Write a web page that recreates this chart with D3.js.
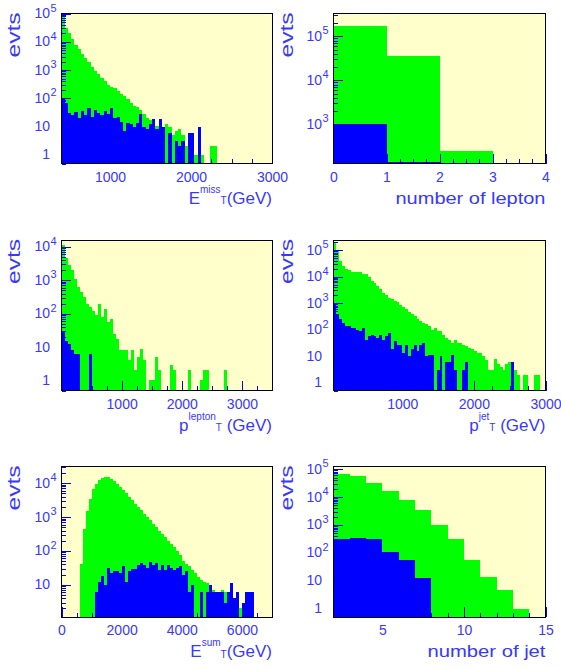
<!DOCTYPE html>
<html><head><meta charset="utf-8">
<script src="https://cdn.jsdelivr.net/npm/d3@7"></script>
<style>body{margin:0;background:#fff}svg{display:block}</style>
</head><body>
<script>
// ---------------- DATA ----------------
// Panel 1: missing ET (bins of 40 GeV from 400)
const metBinStart = 400, metBinWidth = 40;
const metGreen = [95000,30000,20000,12500,8000,5600,3800,2600,1900,1300,950,700,520,400,300,250,225,180,140,120,
  95,70,55,48,40,28,21,17,14,11,11,7,12,10,5,7,8,5,2,3,3,1,2,1,0,0,2,2,0,0,
  0,0,0,0,0,0,0,0,0,0,0,0,0,0,0];
const metBlue = [100,70,30,25,33,20,35,25,45,22,40,30,25,35,28,45,20,22,15,7,
  14,12,10,14,27,10,8,12,18,8,18,10,0,6,0,3,2,3,0,6,6,0,10,0,0,0,0,0,0,0,
  0,0,0,0,0,0,0,0,0,0,0,0,0,0,0];
const metXTicks = [1000,2000,3000];

// Panel 2: number of leptons
const nlepBinStart = 0, nlepBinWidth = 1;
const nlepGreen = [170000,36000,240,0];
const nlepBlue = [1000,140,0,0];
const nlepXTicks = [0,1,2,3,4];

// Panel 3: lepton pT (bins of 50 GeV from 0)
const lepBinStart = 0, lepBinWidth = 50;
const lepGreen = [11000,4500,2800,2000,1100,630,450,316,200,160,117,93,200,80,140,56,70,25,18,8,
  8,8,4,8,2,5,9,4,0,1,1,5,2,0,0,0,3,2,0,0,0,0,2,0,0,0,1,2,2,0,
  0,0,0,0,2,0,0,0,0,0,0,0,0,0,0,0,0,0,0,0];
const lepBlue = [28,15,12,8,6,6,0,0,0,6,0,0,0,0,0,0,0,0,0,0,
  0,0,0,0,0,0,0,0,0,0,0,0,0,0,0,0,0,0,0,0,0,0,0,0,0,0,0,0,0,0,
  0,0,0,0,0,0,0,0,0,0,0,0,0,0,0,0,0,0,0,0];
const lepXTicks = [1000,2000,3000];

// Panel 4: jet pT (bins of 40 GeV from 40)
const jetBinStart = 40, jetBinWidth = 40;
const jetGreen = [200000,95000,40000,26000,19000,17000,15000,14500,14500,14500,13000,12000,9300,6900,5500,4500,3300,2500,2000,1600,
  1400,1200,1050,850,710,590,440,380,325,245,210,180,160,135,100,117,87,87,65,49,
  42,32,42,32,32,27,24,20,18,15,13,13,10,7,3,3,8,5,4,3,
  5,6,5,3,2,0,2,2,0,0,2,2,0,0];
const jetBlue = [900,370,240,180,135,135,117,117,100,87,117,42,56,65,56,49,65,42,56,76,
  18,36,27,27,13,27,10,18,27,15,27,32,10,11,11,0,3,10,0,6,
  6,11,3,0,0,3,6,0,0,0,0,0,0,0,0,0,0,0,0,0,
  0,0,6,0,0,0,0,0,0,0,0,0,0,0];
const jetXTicks = [1000,2000,3000];

// Panel 5: sum ET (bins of 100 GeV from 0)
const sumBinStart = 0, sumBinWidth = 100;
const sumGreen = [0,0,0,0,0,0,40,450,1500,3500,6500,9500,12000,14000,15500,15000,13500,11500,9500,7800,
  6300,5000,4000,3200,2500,2000,1600,1250,1000,800,620,500,400,320,250,200,160,130,100,75,
  50,40,35,28,22,17,14,12,11,9,7,6,6,7,6,4,4,3,3,2,
  2,2,3,2,0,0,0,0,0,0];
const sumBlue = [0,0,0,0,0,0,0,0,0,0,0,6,12,18,10,31,22,25,25,22,
  35,12,25,30,30,39,44,39,31,48,39,44,28,39,28,39,31,28,31,35,
  20,25,6,10,0,0,6,0,6,10,6,6,6,6,3,6,11,4,6,0,
  3,6,6,6,0,0,0,0,0,0];
const sumXTicks = [0,2000,4000,6000];

// Panel 6: number of jets (bins of 1 from 2)
const njetBinStart = 2, njetBinWidth = 1;
const njetGreen = [66000,55000,33000,17000,8000,3300,1000,320,56,13.5,4.5,1,0];
const njetBlue = [300,345,315,110,56,12,0,0,0,0,0,0,0];
const njetXTicks = [5,10,15];

// ---------------- DRAWING ----------------
const W = 561, H = 670;
const FONT = "'Liberation Sans', Arial, Helvetica, sans-serif";
const TXT = "#3838ff";
const GREEN = "#00ff00", BLUE = "#0000ff", BG = "#ffffcc";

const svg = d3.select("body").append("svg").attr("width", W).attr("height", H)
  .style("font-family", FONT);
const defs = svg.append("defs");

function panel(o) {
  const x = d3.scaleLinear().domain(o.xDomain).range([o.left, o.right]);
  const y = d3.scaleLog().domain(o.yDomain).range([o.bottom, o.top]).clamp(true);
  const g = svg.append("g");
  const cid = "clip" + o.id;
  defs.append("clipPath").attr("id", cid).append("rect")
    .attr("x", o.left).attr("y", o.top).attr("width", o.right - o.left).attr("height", o.bottom - o.top);

  g.append("rect").attr("x", o.left).attr("y", o.top)
    .attr("width", o.right - o.left).attr("height", o.bottom - o.top).attr("fill", BG);

  const hg = g.append("g").attr("clip-path", `url(#${cid})`);
  function hist(vals, color) {
    const pts = vals.map((v, i) => ({x: o.start + i * o.width, v}));
    pts.push({x: o.start + vals.length * o.width, v: vals[vals.length - 1]});
    const area = d3.area()
      .x(d => x(d.x))
      .y0(o.bottom)
      .y1(d => d.v > 0 ? y(d.v) : o.bottom)
      .curve(d3.curveStepAfter);
    hg.append("path").attr("d", area(pts)).attr("fill", color).attr("shape-rendering", "crispEdges");
  }
  hist(o.green, GREEN);
  hist(o.blue, BLUE);

  // x ticks
  const [x0, x1] = o.xDomain;
  const minors = d3.range(Math.ceil(x0 / o.xMinor) * o.xMinor, x1 + 1e-9, o.xMinor)
    .filter(v => !o.xTicks.some(t => Math.abs(t - v) < 1e-9));
  const xMinorAxis = d3.axisBottom(x).tickValues(minors).tickSize(-4.5).tickFormat("");
  const xMajorAxis = d3.axisBottom(x).tickValues(o.xTicks).tickSize(-10).tickPadding(8.5)
    .tickFormat(d => String(d));
  const gxm = g.append("g").attr("transform", `translate(0,${o.bottom})`).call(xMinorAxis);
  const gx = g.append("g").attr("transform", `translate(0,${o.bottom})`).call(xMajorAxis);
  [gxm, gx].forEach(a => {
    a.select(".domain").remove();
    a.selectAll("line").attr("stroke", BLUE).attr("shape-rendering", "crispEdges");
  });
  gx.selectAll("text").attr("fill", TXT).attr("font-size", 14).attr("font-family", FONT);

  // y ticks (log)
  const [y0, y1] = o.yDomain;
  const kMin = Math.floor(Math.log10(y0)), kMax = Math.ceil(Math.log10(y1));
  const yMaj = [], yMin = [];
  for (let k = kMin; k <= kMax; k++) {
    const p = Math.pow(10, k);
    if (p >= y0 * 0.999 && p <= y1 * 1.001) yMaj.push(p);
    for (let m = 2; m <= 9; m++) { const v = m * p; if (v >= y0 && v <= y1) yMin.push(v); }
  }
  const gym = g.append("g").attr("transform", `translate(${o.left},0)`)
    .call(d3.axisLeft(y).tickValues(yMin).tickSize(-4.5).tickFormat(""));
  const gy = g.append("g").attr("transform", `translate(${o.left},0)`)
    .call(d3.axisLeft(y).tickValues(yMaj).tickSize(-9).tickFormat(""));
  [gym, gy].forEach(a => {
    a.select(".domain").remove();
    a.selectAll("line").attr("stroke", BLUE).attr("shape-rendering", "crispEdges");
  });
  // y labels with superscripts
  yMaj.forEach(v => {
    const k = Math.round(Math.log10(v));
    const ty = y(v) + 4.5;
    const base = k === 0 ? "1" : "10";
    g.append("text").attr("x", o.left - 11.5).attr("y", ty).attr("text-anchor", "end")
      .attr("fill", TXT).attr("font-size", 14).text(base);
    if (k >= 2) {
      g.append("text").attr("x", o.left - 11).attr("y", ty - 6.5)
        .attr("fill", TXT).attr("font-size", 11).text(String(k));
    }
  });

  // frame
  g.append("rect").attr("x", o.left).attr("y", o.top)
    .attr("width", o.right - o.left).attr("height", o.bottom - o.top)
    .attr("fill", "none").attr("stroke", "#000").attr("stroke-width", 1).attr("shape-rendering", "crispEdges");

  // y title "evts"
  g.append("text").attr("transform", `translate(${o.evtsX},${o.top - 1}) rotate(-90)`)
    .attr("text-anchor", "end").attr("fill", TXT).attr("font-size", 19)
    .attr("textLength", 45).attr("lengthAdjust", "spacingAndGlyphs").text("evts");

  // x title
  const tb = o.bottom + 40;
  const t = g.append("text").attr("x", o.right).attr("y", tb).attr("text-anchor", "end")
    .attr("fill", TXT).attr("font-size", 17);
  if (o.title.plain) {
    t.attr("textLength", o.title.len).attr("lengthAdjust", "spacingAndGlyphs").text(o.title.plain);
  } else {
    t.append("tspan").text(o.title.main);
    t.append("tspan").attr("font-size", 10).attr("dy", -11).text(o.title.sup);
    t.append("tspan").attr("font-size", 10).attr("dy", 11.5).text("T");
    t.append("tspan").attr("dy", -0.5).text(o.title.rest);
  }
}

const L = {left: 61.5, right: 272, evtsX: 20};
const R = {left: 333.5, right: 545.5, evtsX: 293};
const rows = [{top: 13.5, bottom: 163.5}, {top: 240, bottom: 390.5}, {top: 466.5, bottom: 617}];

panel({id: 1, ...L, ...rows[0], xDomain: [400, 3000], yDomain: [0.5, 1e5], xTicks: metXTicks, xMinor: 250,
  start: metBinStart, width: metBinWidth, green: metGreen, blue: metBlue,
  title: {main: "E", sup: "miss", rest: "(GeV)"}});
panel({id: 2, ...R, ...rows[0], xDomain: [0, 4], yDomain: [128, 3.3e5], xTicks: nlepXTicks, xMinor: 0.25,
  start: nlepBinStart, width: nlepBinWidth, green: nlepGreen, blue: nlepBlue,
  title: {plain: "number of lepton", len: 150}});
panel({id: 3, ...L, ...rows[1], xDomain: [0, 3500], yDomain: [0.5, 1.6e4], xTicks: lepXTicks, xMinor: 250,
  start: lepBinStart, width: lepBinWidth, green: lepGreen, blue: lepBlue,
  title: {main: "p", sup: "lepton", rest: " (GeV)"}});
panel({id: 4, ...R, ...rows[1], xDomain: [40, 3000], yDomain: [0.5, 2.4e5], xTicks: jetXTicks, xMinor: 250,
  start: jetBinStart, width: jetBinWidth, green: jetGreen, blue: jetBlue,
  title: {main: "p", sup: "jet", rest: " (GeV)"}});
panel({id: 5, ...L, ...rows[2], xDomain: [0, 7000], yDomain: [1.12, 3.1e4], xTicks: sumXTicks, xMinor: 500,
  start: sumBinStart, width: sumBinWidth, green: sumGreen, blue: sumBlue,
  title: {main: "E", sup: "sum", rest: "(GeV)"}});
panel({id: 6, ...R, ...rows[2], xDomain: [2, 15], yDomain: [0.5, 1.24e5], xTicks: njetXTicks, xMinor: 1,
  start: njetBinStart, width: njetBinWidth, green: njetGreen, blue: njetBlue,
  title: {plain: "number of jet", len: 118}});
</script>
</body></html>
